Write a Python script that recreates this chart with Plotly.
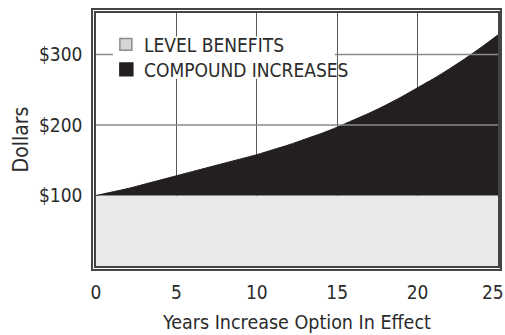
import plotly.graph_objects as go

# Benefit amount per year the increase option has been in effect
years = list(range(0, 26))
level_benefits = [100] * 26
compound_increases = [100, 105, 110, 116, 122, 128, 134, 140, 146, 152, 158,
                      165, 172, 180, 188, 197, 207, 217, 228, 240, 253,
                      266, 280, 295, 311, 328]

x_ticks = [0, 5, 10, 15, 20, 25]
y_ticks = [100, 200, 300]
y_tick_text = ["$100", "$200", "$300"]
series_names = ["LEVEL BENEFITS", "COMPOUND INCREASES"]

FONT = "Liberation Sans Narrow, Arial Narrow, DejaVu Sans Condensed, sans-serif"
INK = "#2b2b2b"
BLACK = "#231f20"
LIGHT = "#e9e9e9"
FRAME = "#444444"

# plot-area geometry in pixels (used to place the key and frame)
W, H = 505, 335
ML, MR, MT, MB = 96, 5, 13, 64
PW, PH = W - ML - MR, H - MT - MB


def px(xp):
    return (xp - ML) / PW


def py(yp):
    return (H - MB - yp) / PH


fig = go.Figure()

# Level benefits: light band from zero up to the flat benefit
fig.add_trace(go.Scatter(
    x=years, y=level_benefits, mode="lines", fill="tozeroy",
    fillcolor=LIGHT, line=dict(width=0, color=LIGHT), showlegend=False,
    hoverinfo="skip"))

# Compound increases: dark band between the flat benefit and the growing one
fig.add_trace(go.Scatter(
    x=years, y=compound_increases, mode="lines", fill="tonexty",
    fillcolor=BLACK, line=dict(width=1, color=BLACK, shape="spline",
                               smoothing=0.8),
    showlegend=False, hoverinfo="skip"))

# Horizontal rules sit above the filled bands
for v in y_ticks:
    if v > level_benefits[0]:
        fig.add_shape(type="line", xref="paper", yref="y", x0=0, x1=1,
                      y0=v, y1=v, layer="above",
                      line=dict(color="#8a8a8a", width=1.5))

# Key: white backing, swatches and labels
fig.add_shape(type="rect", xref="paper", yref="paper",
              x0=px(113), x1=px(336), y0=py(80), y1=py(37),
              layer="above", fillcolor="white", line=dict(width=0))
swatches = [
    dict(fill="#d6d6d6", edge="#8c8c8c", x0=120, x1=132, y0=39, y1=51),
    dict(fill=BLACK, edge=BLACK, x0=120, x1=133, y0=64, y1=77),
]
for name, sw in zip(series_names, swatches):
    fig.add_shape(type="rect", xref="paper", yref="paper",
                  x0=px(sw["x0"]), x1=px(sw["x1"]),
                  y0=py(sw["y1"]), y1=py(sw["y0"]), layer="above",
                  fillcolor=sw["fill"], line=dict(color=sw["edge"], width=1.5))
    fig.add_annotation(xref="paper", yref="paper", x=px(142),
                       y=py((sw["y0"] + sw["y1"]) / 2 + 0.5),
                       xanchor="left", yanchor="middle", showarrow=False,
                       text=name, font=dict(family=FONT, size=19, color=INK))

# Outer frame of the double border
fig.add_shape(type="rect", xref="paper", yref="paper",
              x0=px(92), x1=px(503), y0=py(275), y1=py(9),
              layer="above", line=dict(color=FRAME, width=2))

# The last year label is nudged inward so it stays inside the page
fig.add_annotation(xref="x", yref="paper", x=x_ticks[-1], y=0,
                   xanchor="center", yanchor="middle", xshift=-5, yshift=-26,
                   showarrow=False, text=str(x_ticks[-1]),
                   font=dict(family=FONT, size=19, color=INK))

fig.update_layout(
    width=W, height=H,
    margin=dict(l=ML, r=MR, t=MT, b=MB),
    paper_bgcolor="white", plot_bgcolor="white",
    font=dict(family=FONT, color=INK, size=19),
    showlegend=False,
    xaxis=dict(range=[0, 25], tickmode="array", tickvals=x_ticks,
               ticktext=[str(t) for t in x_ticks[:-1]] + [""],
               showgrid=True, gridcolor="#5a5a5a", gridwidth=1,
               showline=True, mirror=True, linecolor=FRAME, linewidth=1.5,
               zeroline=False, ticks="", ticklabelstandoff=8,
               tickfont=dict(size=19, color=INK),
               title=dict(text="Years Increase Option In Effect",
                          font=dict(size=19.5, color=INK), standoff=14)),
    yaxis=dict(range=[0, 359], tickmode="array", tickvals=y_ticks,
               ticktext=y_tick_text, showgrid=False,
               showline=True, mirror=True, linecolor=FRAME, linewidth=1.5,
               zeroline=False, ticks="", ticklabelstandoff=8,
               tickfont=dict(size=19, color=INK),
               title=dict(text="Dollars", font=dict(size=21, color=INK),
                          standoff=5)),
)

fig.write_html("out.html")
